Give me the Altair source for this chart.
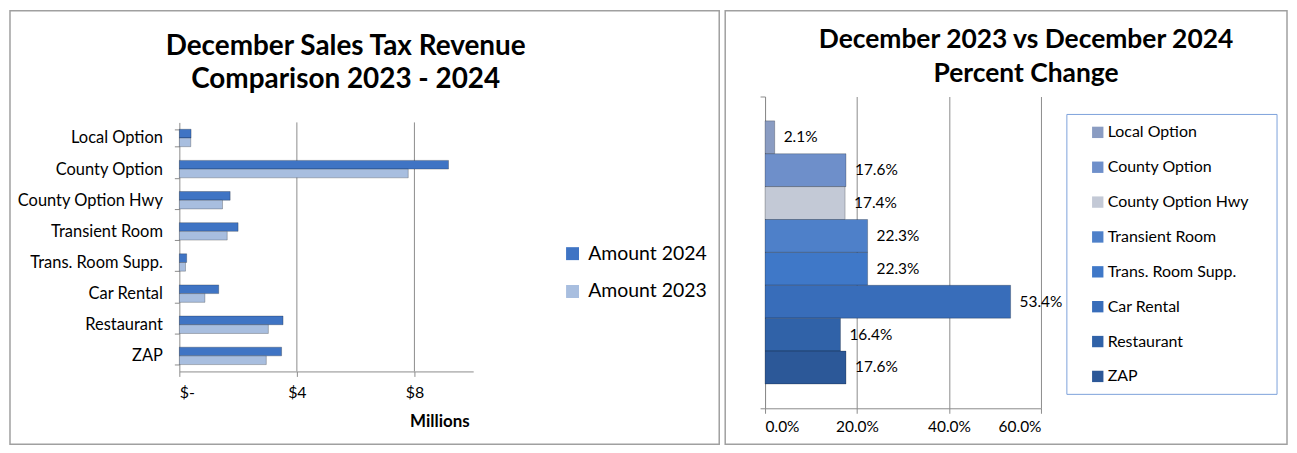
import altair as alt
import pandas as pd

# ---------------- data ----------------
categories = ["Local Option", "County Option", "County Option Hwy", "Transient Room",
              "Trans. Room Supp.", "Car Rental", "Restaurant", "ZAP"]
series_names = ["Amount 2024", "Amount 2023"]
amount_2024 = [0.40, 9.16, 1.73, 2.00, 0.25, 1.34, 3.53, 3.48]   # millions of $
amount_2023 = [0.39, 7.79, 1.47, 1.63, 0.21, 0.87, 3.03, 2.96]   # millions of $
pct_change = [0.021, 0.176, 0.174, 0.223, 0.223, 0.534, 0.164, 0.176]
money_ticks = [0, 4, 8]
pct_ticks = [0.0, 0.2, 0.4, 0.6]
period = ["December"]
left_title = ["December Sales Tax Revenue", "Comparison 2023 - 2024"]
right_title = ["December 2023 vs December 2024", "Percent Change"]

series_colors = ["#3F74C4", "#A8BEDF"]
category_colors = ["#8A9CC2", "#6E8FCA", "#C3C9D6", "#4E80C9",
                   "#3F78C8", "#386DBA", "#3062A8", "#2C5898"]

FONT = "Lato"
GRID = "#8C8C8C"
FRAME = "#A0A0A0"

left_df = pd.DataFrame({
    "category": categories * 2,
    "series": [series_names[0]] * len(categories) + [series_names[1]] * len(categories),
    "amount": amount_2024 + amount_2023,
})
right_df = pd.DataFrame({
    "category": categories,
    "pct": pct_change,
    "period": period * len(categories),
})
grid_df = pd.DataFrame({"tick": money_ticks[1:]})
one = pd.DataFrame({"k": [0]})

LW, LH = 295, 276
RW, RH = 277, 313

# ---------------- left panel ----------------
x_money = alt.Scale(domain=[0, 10], nice=False)

left_grid = alt.Chart(grid_df).mark_rule(color=GRID, strokeWidth=1).encode(
    x=alt.X("tick:Q", scale=x_money),
    y=alt.value(26), y2=alt.value(276),
)

left_bars = alt.Chart(left_df).mark_bar(stroke="#000000", strokeOpacity=0.3, strokeWidth=0.8).encode(
    x=alt.X("amount:Q", scale=x_money,
            axis=alt.Axis(values=money_ticks,
                          labelExpr="datum.value == 0 ? '$-' : '$' + datum.value",
                          title="Millions", titleAlign="right", titleBaseline="middle",
                          titleX=291, titleY=50, titleFontSize=17, titleFontWeight="bold",
                          grid=False, labelPadding=8, labelFontSize=16)),
    y=alt.Y("category:N", sort=categories,
            scale=alt.Scale(paddingInner=0.44, paddingOuter=0.22, range=[26, 276]),
            axis=alt.Axis(title=None, tickBand="extent", grid=False, labelPadding=12,
                          labelFontSize=16.5)),
    yOffset=alt.YOffset("series:N", sort=series_names),
    color=alt.Color("series:N", scale=alt.Scale(domain=series_names, range=series_colors),
                    legend=alt.Legend(orient="none", legendX=385, legendY=148, title=None,
                                      symbolType="square", symbolSize=169, symbolStrokeWidth=0,
                                      labelFont=FONT, labelFontSize=19.5, labelColor="#000000",
                                      labelOffset=6, rowPadding=17)),
)

left_title_mark = alt.Chart(one).mark_text(
    font=FONT, fontSize=28, fontWeight="bold", align="center", baseline="middle",
    lineHeight=33, color="#000000"
).encode(x=alt.value(167), y=alt.value(-50), text=alt.value(left_title))

left_frame = alt.Chart(one).mark_rect(fillOpacity=0, stroke=FRAME, strokeWidth=1.5).encode(
    x=alt.value(-170), x2=alt.value(542), y=alt.value(-86), y2=alt.value(349))

left = alt.layer(left_frame, left_grid, left_bars, left_title_mark).properties(width=LW, height=LH)

# ---------------- right panel ----------------
right_bars = alt.Chart(right_df).mark_bar(stroke="#000000", strokeOpacity=0.3, strokeWidth=0.8).encode(
    x=alt.X("pct:Q", scale=alt.Scale(domain=[0, 0.6], nice=False),
            axis=alt.Axis(values=pct_ticks, format=".1%", title=None, grid=True, labelPadding=6,
                          labelFontSize=15.5)),
    y=alt.Y("period:N", scale=alt.Scale(paddingInner=0, paddingOuter=0),
            axis=alt.Axis(title=None, labels=False, tickBand="extent", grid=False)),
    yOffset=alt.YOffset("category:N", sort=categories,
                        scale=alt.Scale(paddingInner=0, paddingOuter=0.74)),
    color=alt.Color("category:N", sort=categories,
                    scale=alt.Scale(domain=categories, range=category_colors),
                    legend=alt.Legend(orient="none", legendX=326, legendY=28, title=None,
                                      symbolType="square", symbolSize=130, symbolStrokeWidth=0,
                                      labelFont=FONT, labelFontSize=16, labelColor="#000000",
                                      labelOffset=2, rowPadding=19)),
)

right_labels = alt.Chart(right_df).mark_text(
    font=FONT, fontSize=15.5, align="left", baseline="middle", dx=9, color="#000000"
).encode(
    x="pct:Q",
    y="period:N",
    yOffset=alt.YOffset("category:N", sort=categories),
    text=alt.Text("pct:Q", format=".1%"),
)

right_box = alt.Chart(one).mark_rect(fillOpacity=0, stroke="#7DA2DB", strokeWidth=1).encode(
    x=alt.value(303), x2=alt.value(514), y=alt.value(18), y2=alt.value(299))

right_title_mark = alt.Chart(one).mark_text(
    font=FONT, fontSize=26.5, fontWeight="bold", align="center", baseline="middle",
    lineHeight=34, color="#000000"
).encode(x=alt.value(262), y=alt.value(-57), text=alt.value(right_title))

right_frame = alt.Chart(one).mark_rect(fillOpacity=0, stroke=FRAME, strokeWidth=1.5).encode(
    x=alt.value(-40), x2=alt.value(524), y=alt.value(-86), y2=alt.value(349))

right = alt.layer(right_frame, right_box, right_bars, right_labels, right_title_mark).properties(
    width=RW, height=RH)

chart = alt.hconcat(left, right, spacing=2).resolve_scale(
    color="independent", yOffset="independent"
).resolve_legend(color="independent").properties(
    padding=0, background="white"
).configure_view(stroke="transparent").configure_axis(
    labelFont=FONT, labelFontSize=15, labelColor="#000000",
    titleFont=FONT, titleColor="#000000",
    gridColor=GRID, domainColor=GRID, tickColor=GRID, tickSize=5,
)

chart.save("out.html", embed_options={"renderer": "svg", "actions": False})
